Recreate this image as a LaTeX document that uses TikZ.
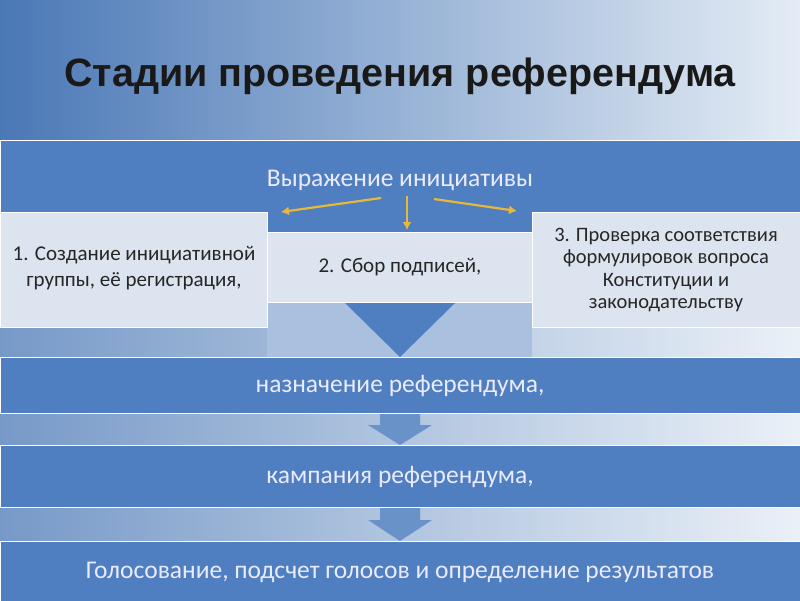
\documentclass[tikz,border=0pt]{standalone}
\usepackage{fontspec}
\setmainfont{Carlito}
\newfontfamily\titlefont{Liberation Sans}
\begin{document}
\begin{tikzpicture}[x=1pt,y=-1pt,
  band/.style={fill=bandblue,draw=white,line width=1.2pt},
  lbox/.style={fill=lightbox,draw=white,line width=1.2pt},
  wtxt/.style={text=white!92!blue,font=\fontsize{25.5}{30}\selectfont},
  dtxt/.style={text=black!85,font=\fontsize{21}{26}\selectfont,align=center},
  yarr/.style={draw=arrowyellow,line width=2.2pt,-{Latex[length=8pt,width=9pt]}}]
\usetikzlibrary{arrows.meta}
\definecolor{bandblue}{HTML}{4F7FC0}
\definecolor{lightbox}{HTML}{DCE4EF}
\definecolor{midblue}{HTML}{A9C0DF}
\definecolor{arrowyellow}{HTML}{E8B83A}
\definecolor{bgdark}{HTML}{4A78B6}
\definecolor{bglight}{HTML}{E4ECF5}
\useasboundingbox (0,0) rectangle (800,600);
\shade[left color=bgdark,right color=bglight] (0,0) rectangle (800,600);
\fill[white,opacity=0.25] (0,300) rectangle (800,600);
\node[font=\titlefont\bfseries\fontsize{39.5}{46}\selectfont,text=black!90] (title) at (400,76) {Стадии проведения референдума};
% top band
\node[band,minimum width=800,minimum height=92,inner sep=0,anchor=north west] (top) at (0,140) {};
\node[wtxt] (toptxt) at (400,180) {Выражение инициативы};
% middle area
\fill[midblue] (267,300) rectangle (532,357);
\node[lbox,minimum width=267,minimum height=115,anchor=north west,inner sep=0] (b1) at (0,212) {};
\node[dtxt] at (134,268) {1. Создание инициативной\\группы, её регистрация,};
\node[lbox,minimum width=265,minimum height=70,anchor=north west,inner sep=0] (b2) at (267,232) {};
\node[dtxt] at (400,267) {2. Сбор подписей,};
\node[lbox,minimum width=268,minimum height=115,anchor=north west,inner sep=0] (b3) at (532,212) {};
\node[dtxt,font=\fontsize{20.5}{22.5}\selectfont] at (666,270) {3. Проверка соответствия\\формулировок вопроса\\Конституции и\\законодательству};
\coordinate (a0) at (381,198); \coordinate (a1) at (281,212);
\coordinate (c0) at (407,196); \coordinate (c1) at (407,230);
\coordinate (d0) at (434,199); \coordinate (d1) at (517,211);
\draw[yarr] (a0) -- (a1);
\draw[yarr] (c0) -- (c1);
\draw[yarr] (d0) -- (d1);
\fill[bandblue] (345,303) -- (455,303) -- (400,357) -- cycle;
% band 2
\node[band,minimum width=800,minimum height=56,anchor=north west,inner sep=0] (n2) at (0,357) {};
\node[wtxt] at (400,386) {назначение референдума,};
\fill[bandblue!85!white] (380,414) -- (420,414) -- (420,425) -- (432,425) -- (400,445) -- (368,425) -- (380,425) -- cycle;
% band 3
\node[band,minimum width=800,minimum height=62,anchor=north west,inner sep=0] (n3) at (0,445) {};
\node[wtxt] at (400,477) {кампания референдума,};
\fill[bandblue!85!white] (380,508) -- (420,508) -- (420,520) -- (432,520) -- (400,541) -- (368,520) -- (380,520) -- cycle;
% band 4
\node[band,minimum width=800,minimum height=60,anchor=north west,inner sep=0] (n4) at (0,541) {};
\node[wtxt] at (400,572) {Голосование, подсчет голосов и определение результатов};
\end{tikzpicture}
\end{document}
